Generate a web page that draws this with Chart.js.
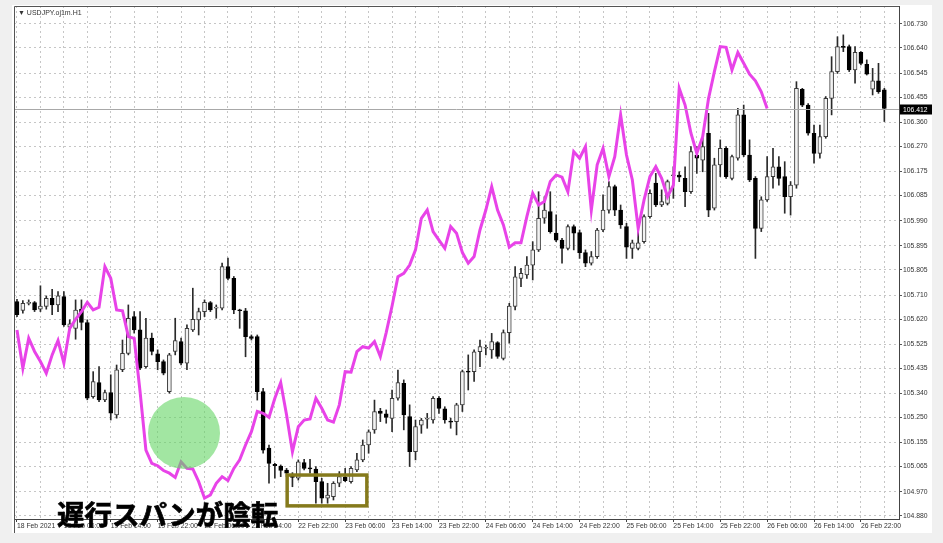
<!DOCTYPE html>
<html>
<head>
<meta charset="utf-8">
<script src="https://cdn.jsdelivr.net/npm/chart.js@4.4.0/dist/chart.umd.min.js"></script>
<style>
  html, body { margin: 0; padding: 0; background: #f0f0f0; }
  #wrap { position: relative; width: 943px; height: 543px; overflow: hidden; }
  canvas { position: absolute; left: 0; top: 0; }
  #title { position: absolute; left: 18px; top: 9px; font: 7px "Liberation Sans", "DejaVu Sans", sans-serif; color: #333; white-space: nowrap; }
  #note { position: absolute; left: 57px; top: 500px; font: bold 27.5px "Noto Sans CJK JP", sans-serif; color: #000; line-height: 1; white-space: nowrap; -webkit-text-stroke: 0.7px #000; }
</style>
</head>
<body>
<div id="wrap">
  <canvas id="chart" width="943" height="543"></canvas>
  <div id="title">▼ USDJPY.oj1m.H1</div>
  <div id="note">遅行スパンが陰転</div>
</div>
<script>
// USDJPY H1 candles (bar 0 = 18 Feb 22:00)
const opens = [
  105.686, 105.652, 105.679, 105.682, 105.657, 105.667, 105.698, 105.673, 105.704, 105.589,
  105.585, 105.657, 105.607, 105.328, 105.381, 105.316, 105.343, 105.259, 105.429, 105.491,
  105.629, 105.579, 105.441, 105.548, 105.489, 105.460, 105.347, 105.498, 105.535, 105.454,
  105.579, 105.617, 105.648, 105.682, 105.661, 105.661, 105.817, 105.773, 105.654, 105.651,
  105.554, 105.554, 105.347, 105.134, 105.073, 105.067, 105.052, 105.033, 105.021, 105.080,
  105.058, 105.055, 105.008, 104.946, 104.952, 105.002, 105.024, 105.008, 105.052, 105.090,
  105.146, 105.203, 105.274, 105.263, 105.246, 105.322, 105.378, 105.253, 105.121, 105.221,
  105.243, 105.240, 105.322, 105.282, 105.234, 105.234, 105.297, 105.422, 105.422, 105.497,
  105.510, 105.504, 105.531, 105.472, 105.569, 105.667, 105.773, 105.786, 105.823, 105.880,
  105.999, 106.024, 105.943, 105.917, 105.886, 105.968, 105.945, 105.870, 105.830, 105.855,
  105.955, 106.030, 106.118, 106.030, 105.968, 105.886, 105.886, 105.911, 106.005, 106.131,
  106.049, 106.055, 106.159, 106.162, 106.149, 106.099, 106.237, 106.218, 106.319, 106.037,
  106.200, 106.262, 106.149, 106.225, 106.388, 106.237, 106.149, 105.961, 106.068, 106.156,
  106.193, 106.156, 106.080, 106.124, 106.484, 106.425, 106.319, 106.243, 106.306, 106.450,
  106.551, 106.645, 106.645, 106.557, 106.623, 106.578, 106.485, 106.516, 106.482
];
const highs = [
  105.694, 105.689, 105.692, 105.686, 105.745, 105.707, 105.732, 105.723, 105.723, 105.617,
  105.692, 105.692, 105.617, 105.422, 105.441, 105.353, 105.410, 105.447, 105.541, 105.673,
  105.648, 105.648, 105.623, 105.567, 105.504, 105.466, 105.491, 105.623, 105.548, 105.598,
  105.736, 105.661, 105.692, 105.686, 105.673, 105.830, 105.849, 105.780, 105.657, 105.660,
  105.560, 105.560, 105.359, 105.146, 105.077, 105.071, 105.058, 105.042, 105.090, 105.092,
  105.092, 105.065, 105.021, 105.002, 105.008, 105.046, 105.058, 105.065, 105.115, 105.165,
  105.203, 105.315, 105.284, 105.278, 105.353, 105.428, 105.391, 105.297, 105.240, 105.246,
  105.265, 105.328, 105.328, 105.290, 105.247, 105.303, 105.428, 105.485, 105.504, 105.541,
  105.522, 105.566, 105.535, 105.579, 105.679, 105.817, 105.811, 105.855, 105.911, 106.099,
  106.080, 106.099, 106.012, 105.924, 105.974, 105.974, 105.955, 105.880, 105.874, 105.961,
  106.087, 106.137, 106.124, 106.049, 105.980, 105.917, 105.961, 106.012, 106.106, 106.168,
  106.106, 106.143, 106.193, 106.174, 106.193, 106.269, 106.269, 106.300, 106.394, 106.225,
  106.294, 106.269, 106.237, 106.413, 106.425, 106.294, 106.156, 106.080, 106.231, 106.262,
  106.231, 106.212, 106.137, 106.513, 106.488, 106.431, 106.350, 106.350, 106.457, 106.607,
  106.682, 106.689, 106.651, 106.645, 106.626, 106.595, 106.563, 106.582, 106.488
];
const lows = [
  105.629, 105.642, 105.673, 105.648, 105.648, 105.657, 105.636, 105.648, 105.592, 105.579,
  105.544, 105.579, 105.316, 105.322, 105.309, 105.309, 105.240, 105.247, 105.422, 105.485,
  105.567, 105.429, 105.435, 105.485, 105.429, 105.410, 105.341, 105.485, 105.447, 105.429,
  105.573, 105.560, 105.629, 105.648, 105.623, 105.654, 105.767, 105.640, 105.585, 105.478,
  105.541, 105.315, 105.115, 105.002, 105.021, 105.027, 105.027, 104.989, 105.014, 105.052,
  105.040, 104.927, 104.927, 104.927, 104.939, 104.989, 105.008, 105.002, 105.046, 105.083,
  105.115, 105.190, 105.234, 105.228, 105.196, 105.315, 105.203, 105.065, 105.090, 105.190,
  105.209, 105.228, 105.265, 105.228, 105.209, 105.184, 105.272, 105.353, 105.385, 105.441,
  105.485, 105.472, 105.472, 105.466, 105.529, 105.654, 105.742, 105.773, 105.767, 105.874,
  105.980, 105.943, 105.911, 105.830, 105.880, 105.880, 105.848, 105.817, 105.823, 105.848,
  105.949, 106.018, 106.009, 105.961, 105.848, 105.848, 105.880, 105.905, 105.999, 106.043,
  106.043, 106.049, 106.074, 106.137, 106.043, 106.093, 106.168, 106.174, 106.005, 106.030,
  106.156, 106.149, 106.143, 106.218, 106.231, 106.137, 105.848, 105.949, 106.062, 106.112,
  106.124, 106.018, 106.011, 106.112, 106.419, 106.312, 106.206, 106.225, 106.300, 106.388,
  106.544, 106.626, 106.551, 106.507, 106.576, 106.538, 106.463, 106.469, 106.363
];
const closes = [
  105.636, 105.679, 105.683, 105.654, 105.669, 105.698, 105.673, 105.707, 105.598, 105.602,
  105.654, 105.607, 105.322, 105.385, 105.316, 105.343, 105.266, 105.429, 105.491, 105.623,
  105.579, 105.435, 105.548, 105.498, 105.460, 105.416, 105.485, 105.539, 105.454, 105.585,
  105.619, 105.648, 105.683, 105.654, 105.664, 105.817, 105.773, 105.654, 105.651, 105.554,
  105.547, 105.347, 105.127, 105.077, 105.068, 105.050, 105.040, 105.024, 105.083, 105.058,
  105.056, 105.008, 104.946, 104.958, 105.002, 105.027, 105.012, 105.058, 105.090, 105.146,
  105.196, 105.272, 105.265, 105.250, 105.322, 105.381, 105.259, 105.121, 105.215, 105.240,
  105.244, 105.322, 105.284, 105.240, 105.232, 105.297, 105.422, 105.420, 105.497, 105.516,
  105.511, 105.535, 105.479, 105.569, 105.669, 105.779, 105.792, 105.823, 105.880, 105.999,
  106.030, 105.949, 105.917, 105.886, 105.968, 105.943, 105.870, 105.830, 105.855, 105.955,
  106.030, 106.118, 106.030, 105.974, 105.890, 105.907, 105.907, 106.005, 106.093, 106.049,
  106.062, 106.137, 106.162, 106.154, 106.099, 106.250, 106.225, 106.269, 106.030, 106.200,
  106.262, 106.156, 106.231, 106.388, 106.237, 106.143, 105.961, 106.068, 106.156, 106.193,
  106.149, 106.080, 106.124, 106.488, 106.425, 106.319, 106.243, 106.306, 106.450, 106.551,
  106.645, 106.642, 106.557, 106.623, 106.582, 106.541, 106.516, 106.475, 106.412
];

// lagging span = close drawn this many bars back (as on the screenshot)
const lagShift = 20;
const lastPrice = 106.412;

// axis labels
const timeLabels = [
  '18 Feb 2021', '19 Feb 06:00', '19 Feb 14:00', '19 Feb 22:00', '22 Feb 06:00',
  '22 Feb 14:00', '22 Feb 22:00', '23 Feb 06:00', '23 Feb 14:00', '23 Feb 22:00',
  '24 Feb 06:00', '24 Feb 14:00', '24 Feb 22:00', '25 Feb 06:00', '25 Feb 14:00',
  '25 Feb 22:00', '26 Feb 06:00', '26 Feb 14:00', '26 Feb 22:00'
];
const priceTicks = [
  106.730, 106.640, 106.545, 106.455, 106.360, 106.270, 106.175, 106.085, 105.990,
  105.895, 105.805, 105.710, 105.620, 105.525, 105.435, 105.340, 105.250, 105.155,
  105.065, 104.970, 104.880
];

// annotations (bar index / price)
const circleAt = [28.5, 105.191];
const boxFrom = [46.1, 105.033];
const boxTo = [59.7, 104.917];

const gridStep = 4, labelStep = 8;
const fontSmall = { family: '"Liberation Sans", "DejaVu Sans", sans-serif', size: 6.8 };

const wicks = lows.map((l, i) => ({ x: i, y: [l, highs[i]] }));
const bodies = opens.map((o, i) => ({ x: i, y: [o, closes[i]] }));
const bodyFill = opens.map((o, i) => closes[i] >= o ? '#f2f2f2' : '#000000');
const bodyLine = opens.map((o, i) => closes[i] >= o ? '#3a3a3a' : '#000000');
const lagging = closes.slice(lagShift).map((c, i) => ({ x: i, y: c }));

const chartDecor = {
  id: 'chartDecor',
  beforeDraw(chart) {
    const { ctx, chartArea: a } = chart;
    ctx.save();
    ctx.fillStyle = '#f0f0f0';
    ctx.fillRect(0, 0, chart.width, chart.height);
    ctx.fillStyle = '#ffffff';
    ctx.fillRect(a.left - 2, a.top - 1, a.right - a.left + 35, chart.height - a.top - 9);
    ctx.restore();
  },
  afterDatasetsDraw(chart) {
    const { ctx, chartArea: a, scales: { x, y } } = chart;
    ctx.save();
    // current price line
    const py = Math.round(y.getPixelForValue(lastPrice)) + 0.5;
    ctx.strokeStyle = '#a8a8a8';
    ctx.lineWidth = 1;
    ctx.beginPath();
    ctx.moveTo(a.left, py);
    ctx.lineTo(a.right, py);
    ctx.stroke();

    // green marker
    ctx.fillStyle = 'rgba(100, 214, 100, 0.6)';
    ctx.beginPath();
    ctx.arc(x.getPixelForValue(circleAt[0]), y.getPixelForValue(circleAt[1]), 36, 0, Math.PI * 2);
    ctx.fill();

    // olive box
    const bx0 = x.getPixelForValue(boxFrom[0]), by0 = y.getPixelForValue(boxFrom[1]);
    const bx1 = x.getPixelForValue(boxTo[0]), by1 = y.getPixelForValue(boxTo[1]);
    ctx.strokeStyle = '#857a1c';
    ctx.lineWidth = 3.5;
    ctx.strokeRect(bx0, by0, bx1 - bx0, by1 - by0);

    // left / top frame
    ctx.strokeStyle = '#555';
    ctx.lineWidth = 1;
    ctx.beginPath();
    ctx.moveTo(a.left + 0.5, chart.height - 10);
    ctx.lineTo(a.left + 0.5, a.top + 0.5);
    ctx.lineTo(a.right, a.top + 0.5);
    ctx.stroke();

    // price tag
    ctx.fillStyle = '#000';
    ctx.fillRect(a.right + 1, py - 5, 32, 10);
    ctx.fillStyle = '#fff';
    ctx.font = '6.8px "Liberation Sans", sans-serif';
    ctx.textBaseline = 'middle';
    ctx.fillText(lastPrice.toFixed(3), a.right + 4, py + 0.5);
    ctx.restore();
  }
};

new Chart(document.getElementById('chart'), {
  type: 'bar',
  data: {
    datasets: [
      {
        type: 'line',
        data: lagging,
        borderColor: '#e843e8',
        borderWidth: 3,
        pointRadius: 0,
        tension: 0,
        order: 0
      },
      {
        data: bodies,
        backgroundColor: bodyFill,
        borderColor: bodyLine,
        borderWidth: 1,
        borderSkipped: false,
        barThickness: 4,
        minBarLength: 1,
        grouped: false,
        order: 1
      },
      {
        data: wicks,
        backgroundColor: '#2a2a2a',
        borderWidth: 0,
        barThickness: 1,
        grouped: false,
        order: 2
      }
    ]
  },
  options: {
    responsive: false,
    devicePixelRatio: 1,
    animation: false,
    layout: { padding: { left: 14, top: 6, right: 0, bottom: 0 } },
    plugins: { legend: { display: false }, tooltip: { enabled: false } },
    scales: {
      x: {
        type: 'linear',
        min: -0.51,
        max: 150.5,
        offset: false,
        afterFit: (scale) => { scale.height = 24; },
        afterBuildTicks: (scale) => {
          const t = [];
          for (let v = 0; v < opens.length; v += gridStep) t.push({ value: v });
          scale.ticks = t;
        },
        grid: {
          offset: false,
          color: '#c6c6c6',
          lineWidth: 1,
          tickLength: 3,
          tickColor: (c) => (c.tick && c.tick.value % labelStep === 0) ? '#444' : 'rgba(0,0,0,0)'
        },
        border: { color: '#444', width: 1, dash: [2, 3] },
        ticks: {
          autoSkip: false,
          maxRotation: 0,
          align: 'start',
          padding: 0,
          color: '#333',
          font: fontSmall,
          callback: (v) => (v % labelStep === 0) ? timeLabels[v / labelStep] : ''
        }
      },
      y: {
        position: 'right',
        min: 104.8676,
        max: 106.7977,
        beginAtZero: false,
        afterFit: (scale) => { scale.width = 44; },
        afterBuildTicks: (scale) => { scale.ticks = priceTicks.map(v => ({ value: v })); },
        grid: { color: '#c6c6c6', lineWidth: 1, tickLength: 3, tickColor: '#555' },
        border: { color: '#444', width: 1, dash: [2, 3] },
        ticks: {
          padding: 1,
          color: '#333',
          font: fontSmall,
          callback: (v) => Number(v).toFixed(3)
        }
      }
    }
  },
  plugins: [chartDecor]
});
</script>
</body>
</html>
